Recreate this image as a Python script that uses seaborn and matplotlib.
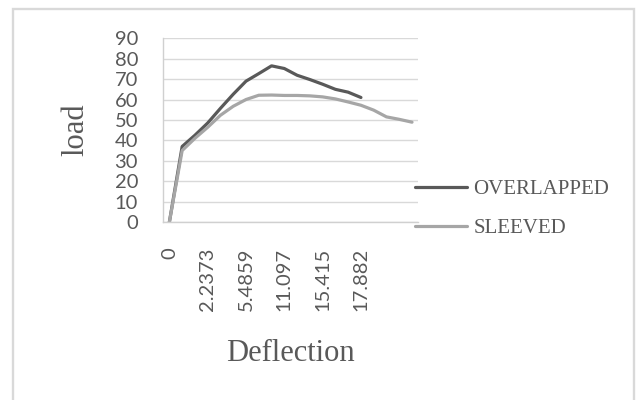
import matplotlib
matplotlib.use("Agg")
import matplotlib.pyplot as plt
import seaborn as sns
import pandas as pd
from matplotlib.patches import Rectangle

# ---- data ----
deflection = ["0", "0.98", "1.65", "2.2373", "3.12", "4.35", "5.4859", "7.21", "9.05",
              "11.097", "12.63", "14.12", "15.415", "16.28", "17.05", "17.882"]
overlapped = [0, 37, 42.5, 48.5, 55.7, 62.6, 69, 72.7, 76.5, 75.2, 71.9, 69.8, 67.5,
              65, 63.6, 61]
sleeved = [0, 35, 41, 46.4, 52.3, 56.7, 60, 62.1, 62.2, 62, 62, 61.8, 61.3, 60.3,
           58.8, 57.2, 54.8, 51.5, 50.3, 48.9]
series_names = ["OVERLAPPED", "SLEEVED"]
y_ticks = [0, 10, 20, 30, 40, 50, 60, 70, 80, 90]

rows = []
for i, v in enumerate(overlapped):
    rows.append({"pos": i, "load": v, "series": series_names[0]})
for i, v in enumerate(sleeved):
    rows.append({"pos": i, "load": v, "series": series_names[1]})
df = pd.DataFrame(rows)

sns.set_theme(style="white")
plt.rcParams["font.family"] = ["Lato", "DejaVu Sans"]

W, H = 640, 400
fig = plt.figure(figsize=(6.4, 4.0), dpi=100)
L, R, T, B = 163, 418.4, 38.3, 222
ax = fig.add_axes([L / W, 1 - B / H, (R - L) / W, (B - T) / H])

grey_text = "#595959"
sns.lineplot(data=df, x="pos", y="load", hue="series", ax=ax,
             palette={"OVERLAPPED": "#595959", "SLEEVED": "#a6a6a6"},
             linewidth=2.3, legend=True)

ax.set_xlim(-0.5, len(sleeved) - 0.5)
ax.set_ylim(0, 90)
ax.set_yticks(y_ticks)
ax.set_yticklabels([str(t) for t in y_ticks])
xt = list(range(0, len(deflection), 3))
ax.set_xticks(xt)
ax.set_xticklabels([deflection[i] for i in xt], rotation=90)

ax.tick_params(axis="y", length=0, pad=18, labelsize=14.5, labelcolor=grey_text)
ax.tick_params(axis="x", length=0, pad=18.5, labelsize=14.5, labelcolor=grey_text)

ax.grid(axis="y", color="#d9d9d9", linewidth=1)
ax.set_axisbelow(True)
for s in ["top", "right"]:
    ax.spines[s].set_visible(False)
for s in ["left", "bottom"]:
    ax.spines[s].set_color("#d0d0d0")
    ax.spines[s].set_linewidth(1)

ax.set_ylabel("load", family="Liberation Serif", fontsize=22, color=grey_text, va="center")
ax.yaxis.set_label_coords((76 - L) / (R - L), 0.5)
ax.set_xlabel("Deflection", family="Liberation Serif", fontsize=22, color=grey_text, va="center")
ax.xaxis.set_label_coords(0.5, (B - 353) / (B - T))

handles, labels = ax.get_legend_handles_labels()
leg = ax.legend(handles, labels, loc="center left",
                bbox_to_anchor=(415 / W, 1 - 209 / H), bbox_transform=fig.transFigure,
                frameon=False, borderpad=0, borderaxespad=0, handlelength=2.5,
                handletextpad=0.3, labelspacing=0.95,
                prop={"family": "Liberation Serif", "size": 15})
for t in leg.get_texts():
    t.set_color(grey_text)
for h in leg.get_lines():
    h.set_linewidth(2.3)

fig.patches.append(Rectangle((12.8 / W, -0.05), (633.8 - 12.8) / W, 1 - 9.2 / H + 0.05,
                             transform=fig.transFigure, fill=False,
                             edgecolor="#d9d9d9", linewidth=1.7, clip_on=False))

fig.savefig("out.png", dpi=100)
